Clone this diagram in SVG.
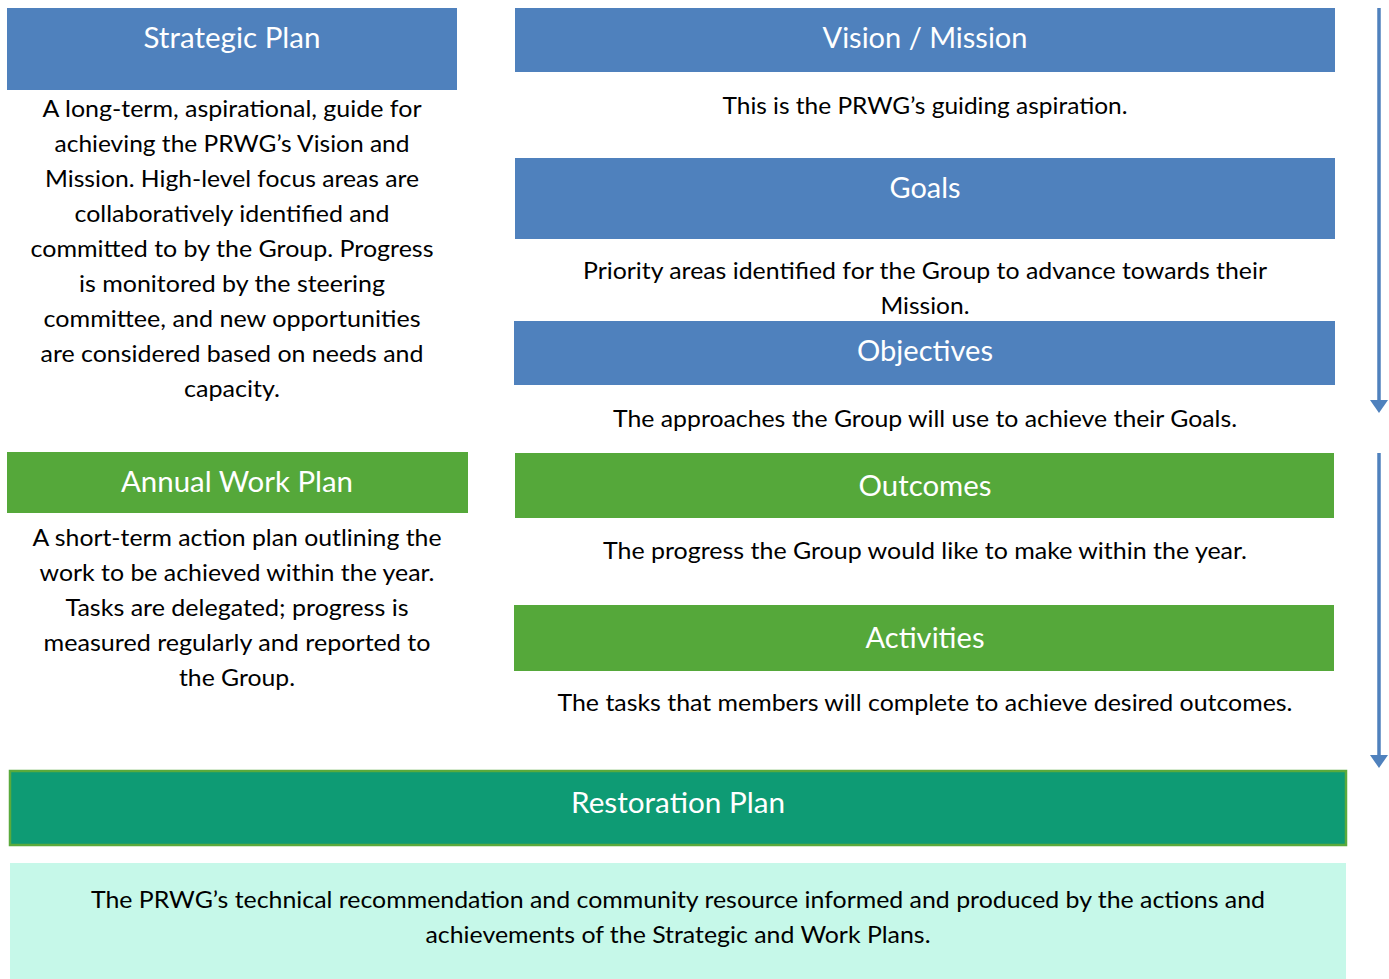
<svg xmlns="http://www.w3.org/2000/svg" width="1389" height="979" viewBox="0 0 1389 979">
<style>
.blue{fill:#4f81bd}
.green{fill:#55a83a}
.hd{font-family:Lato,"Open Sans","Liberation Sans",sans-serif;font-size:28px;fill:#ffffff;text-anchor:middle}
.bd{font-family:Lato,"Open Sans","Liberation Sans",sans-serif;font-size:23px;fill:#000000;text-anchor:middle}
.arr{stroke:#4f81bd;stroke-width:3.5;fill:none}
</style>
<defs>
<marker id="ah" markerUnits="userSpaceOnUse" markerWidth="14" markerHeight="18" refX="0" refY="9" orient="auto" viewBox="0 0 14 18">
<polygon points="0,0 13,9 0,18" fill="#4f81bd"/>
</marker>
</defs>
<rect width="1389" height="979" fill="#ffffff"/>

<g id="strategic-plan">
<rect class="blue" x="7" y="8" width="450" height="82"/>
<text class="hd" x="232" y="48" textLength="177" lengthAdjust="spacingAndGlyphs">Strategic Plan</text>
<text class="bd" x="232" y="117" textLength="379" lengthAdjust="spacingAndGlyphs">A long-term, aspirational, guide for</text>
<text class="bd" x="232" y="152" textLength="355" lengthAdjust="spacingAndGlyphs">achieving the PRWG’s Vision and</text>
<text class="bd" x="232" y="187" textLength="374" lengthAdjust="spacingAndGlyphs">Mission. High-level focus areas are</text>
<text class="bd" x="232" y="222" textLength="315" lengthAdjust="spacingAndGlyphs">collaboratively identified and</text>
<text class="bd" x="232" y="257" textLength="403" lengthAdjust="spacingAndGlyphs">committed to by the Group. Progress</text>
<text class="bd" x="232" y="292" textLength="306" lengthAdjust="spacingAndGlyphs">is monitored by the steering</text>
<text class="bd" x="232" y="327" textLength="377" lengthAdjust="spacingAndGlyphs">committee, and new opportunities</text>
<text class="bd" x="232" y="362" textLength="383" lengthAdjust="spacingAndGlyphs">are considered based on needs and</text>
<text class="bd" x="232" y="397" textLength="96" lengthAdjust="spacingAndGlyphs">capacity.</text>
</g>

<g id="annual-work-plan">
<rect class="green" x="7" y="452" width="461" height="61"/>
<text class="hd" x="237" y="492" textLength="232" lengthAdjust="spacingAndGlyphs">Annual Work Plan</text>
<text class="bd" x="237" y="546" textLength="409" lengthAdjust="spacingAndGlyphs">A short-term action plan outlining the</text>
<text class="bd" x="237" y="581" textLength="395" lengthAdjust="spacingAndGlyphs">work to be achieved within the year.</text>
<text class="bd" x="237" y="616" textLength="343" lengthAdjust="spacingAndGlyphs">Tasks are delegated; progress is</text>
<text class="bd" x="237" y="651" textLength="387" lengthAdjust="spacingAndGlyphs">measured regularly and reported to</text>
<text class="bd" x="237" y="686" textLength="116" lengthAdjust="spacingAndGlyphs">the Group.</text>
</g>

<g id="vision-mission">
<rect class="blue" x="515" y="8" width="820" height="64"/>
<text class="hd" x="925" y="48" textLength="205" lengthAdjust="spacingAndGlyphs">Vision / Mission</text>
<text class="bd" x="925" y="114" textLength="405" lengthAdjust="spacingAndGlyphs">This is the PRWG’s guiding aspiration.</text>
</g>

<g id="goals">
<rect class="blue" x="515" y="158" width="820" height="81"/>
<text class="hd" x="925" y="198" textLength="71" lengthAdjust="spacingAndGlyphs">Goals</text>
<text class="bd" x="925" y="279" textLength="684" lengthAdjust="spacingAndGlyphs">Priority areas identified for the Group to advance towards their</text>
<text class="bd" x="925" y="314" textLength="89" lengthAdjust="spacingAndGlyphs">Mission.</text>
</g>

<g id="objectives">
<rect class="blue" x="514" y="321" width="821" height="64"/>
<text class="hd" x="925" y="361" textLength="136" lengthAdjust="spacingAndGlyphs">Objectives</text>
<text class="bd" x="925" y="427" textLength="624" lengthAdjust="spacingAndGlyphs">The approaches the Group will use to achieve their Goals.</text>
</g>

<g id="outcomes">
<rect class="green" x="515" y="453" width="819" height="65"/>
<text class="hd" x="925" y="496" textLength="133" lengthAdjust="spacingAndGlyphs">Outcomes</text>
<text class="bd" x="925" y="559" textLength="644" lengthAdjust="spacingAndGlyphs">The progress the Group would like to make within the year.</text>
</g>

<g id="activities">
<rect class="green" x="514" y="605" width="820" height="66"/>
<text class="hd" x="925" y="648" textLength="119" lengthAdjust="spacingAndGlyphs">Activities</text>
<text class="bd" x="925" y="711" textLength="735" lengthAdjust="spacingAndGlyphs">The tasks that members will complete to achieve desired outcomes.</text>
</g>

<g id="restoration-plan">
<rect x="10" y="771" width="1336" height="74" fill="#0e9b74" stroke="#5aaa3c" stroke-width="2.5"/>
<text class="hd" x="678" y="813" textLength="214" lengthAdjust="spacingAndGlyphs">Restoration Plan</text>
<rect x="10" y="863" width="1336" height="116" fill="#c6f8e9"/>
<text class="bd" x="678" y="908" textLength="1174" lengthAdjust="spacingAndGlyphs">The PRWG’s technical recommendation and community resource informed and produced by the actions and</text>
<text class="bd" x="678" y="943" textLength="505" lengthAdjust="spacingAndGlyphs">achievements of the Strategic and Work Plans.</text>
</g>

<g id="connectors">
<line class="arr" x1="1379" y1="8" x2="1379" y2="400" marker-end="url(#ah)"/>
<line class="arr" x1="1379" y1="453" x2="1379" y2="755" marker-end="url(#ah)"/>
</g>
</svg>
